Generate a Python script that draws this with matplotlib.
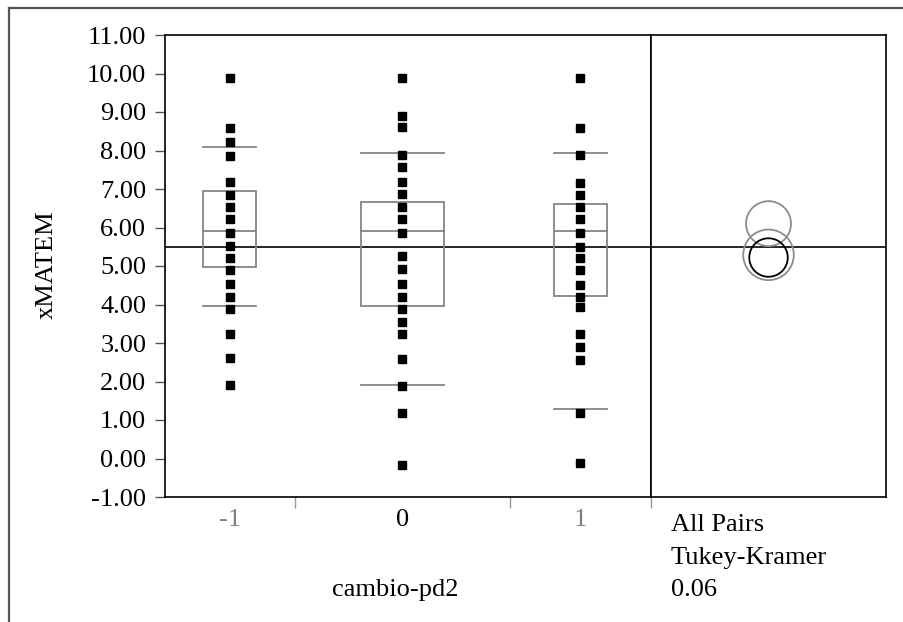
import matplotlib.pyplot as plt
from matplotlib.lines import Line2D
from matplotlib.patches import Rectangle, Ellipse
import numpy as np

plt.rcParams['font.family'] = ['Liberation Serif', 'DejaVu Serif']
plt.rcParams['axes.unicode_minus'] = False

# data
groups = ['-1', '0', '1']
group_label_colors = ['#808080', 'black', '#808080']
group_widths = [130, 215, 141]

pts_m1 = [9.89, 8.59, 8.22, 7.87, 7.19, 6.85, 6.54, 6.23, 5.85, 5.52,
          5.22, 4.90, 4.53, 4.20, 3.88, 3.24, 2.61, 1.91]
pts_0 = [9.89, 8.90, 8.62, 7.89, 7.58, 7.19, 6.88, 6.54, 6.23, 5.86, 5.26,
         4.93, 4.53, 4.20, 3.89, 3.55, 3.23, 2.58, 1.89, 1.19, -0.17]
pts_1 = [9.89, 8.59, 7.89, 7.16, 6.85, 6.54, 6.23, 5.85, 5.50, 5.22,
         4.89, 4.51, 4.19, 3.94, 3.24, 2.89, 2.57, 1.19, -0.11]
points = [pts_m1, pts_0, pts_1]

box_q1 = [4.98, 3.95, 4.22]
box_med = [5.91, 5.90, 5.92]
box_q3 = [6.95, 6.66, 6.61]
whisk_lo = [3.95, 1.92, 1.28]
whisk_hi = [8.08, 7.94, 7.94]
box_widths = [53, 83, 53]

grand_mean = 5.5

circle_means = [6.10, 5.29, 5.22]
circle_radii = [0.584, 0.657, 0.50]
circle_colors = ['#8c8c8c', '#8c8c8c', 'black']

yticks = np.arange(-1, 12, 1)

FS = 19
W, H = 904, 622
fig = plt.figure(figsize=(W / 100, H / 100), dpi=100)
ax = fig.add_axes([165 / W, 1 - 497 / H, 486 / W, 462 / H])
ax2 = fig.add_axes([651 / W, 1 - 497 / H, 235 / W, 462 / H])

edges = np.concatenate([[0], np.cumsum(group_widths)])
centers = edges[:-1] + np.array(group_widths) / 2

ax.set_xlim(0, edges[-1])
ax.set_ylim(-1, 11)

box_col = '#858585'
for i in range(len(groups)):
    c = centers[i]
    bw = box_widths[i]
    ax.add_patch(Rectangle((c - bw / 2, box_q1[i]), bw, box_q3[i] - box_q1[i],
                           fill=False, edgecolor=box_col, lw=1.3, zorder=2))
    ax.plot([c - bw / 2, c + bw / 2], [box_med[i], box_med[i]], color=box_col, lw=1.3, zorder=2)
    ax.plot([c - bw / 2, c + bw / 2], [whisk_hi[i], whisk_hi[i]], color=box_col, lw=1.3, zorder=2)
    ax.plot([c - bw / 2, c + bw / 2], [whisk_lo[i], whisk_lo[i]], color=box_col, lw=1.3, zorder=2)
    ax.plot(np.full(len(points[i]), c), points[i], 's', color='black',
            markersize=5.4, zorder=3)

ax.axhline(grand_mean, color='black', lw=1.2, zorder=1)

for s in ax.spines.values():
    s.set_color('black')
    s.set_linewidth(1.2)

ax.set_yticks(yticks)
ax.set_yticklabels(['%.2f' % v for v in yticks])
ax.tick_params(axis='y', length=7.5, width=1, color='#555555', labelsize=FS, pad=6)

ax.set_xticks(edges[1:])
ax.set_xticklabels([])
ax.tick_params(axis='x', which='major', length=8, width=1, color='#999999')
ax.set_xticks(centers, minor=True)
ax.set_xticklabels(groups, minor=True)
ax.tick_params(axis='x', which='minor', length=0, labelsize=FS, pad=9)
for lab, col in zip(ax.get_xticklabels(minor=True), group_label_colors):
    lab.set_color(col)

# comparison circles panel
ax2.set_xlim(0, 1)
ax2.set_ylim(-1, 11)
ax2.set_xticks([])
ax2.set_yticks([])
for s in ax2.spines.values():
    s.set_color('black')
    s.set_linewidth(1.2)
ax2.axhline(grand_mean, color='black', lw=1.2, zorder=1)

pos = ax2.get_position()
w_px = pos.width * W
h_px = pos.height * H
py = h_px / 12
for m, r, col in zip(circle_means, circle_radii, circle_colors):
    ax2.add_patch(Ellipse((0.5, m), 2 * r * py / w_px, 2 * r, fill=False,
                          edgecolor=col, lw=1.3, zorder=2))

fig.text(395 / W, 1 - 590 / H, 'cambio-pd2', ha='center', va='center', fontsize=FS)
fig.text(47 / W, 1 - 265 / H, 'xMATEM', ha='center', va='center', fontsize=FS, rotation=90)
fig.text(671 / W, 1 - 525 / H, 'All Pairs', ha='left', va='center', fontsize=FS)
fig.text(671 / W, 1 - 558 / H, 'Tukey-Kramer', ha='left', va='center', fontsize=FS)
fig.text(671 / W, 1 - 590 / H, '0.06', ha='left', va='center', fontsize=FS)

# outer frame (top and left only)
fig.add_artist(Line2D([9 / W, 1], [1 - 8 / H, 1 - 8 / H], color='#555555', lw=1.6))
fig.add_artist(Line2D([9 / W, 9 / W], [0, 1 - 8 / H], color='#555555', lw=1.6))

fig.savefig('out.png', dpi=100)
